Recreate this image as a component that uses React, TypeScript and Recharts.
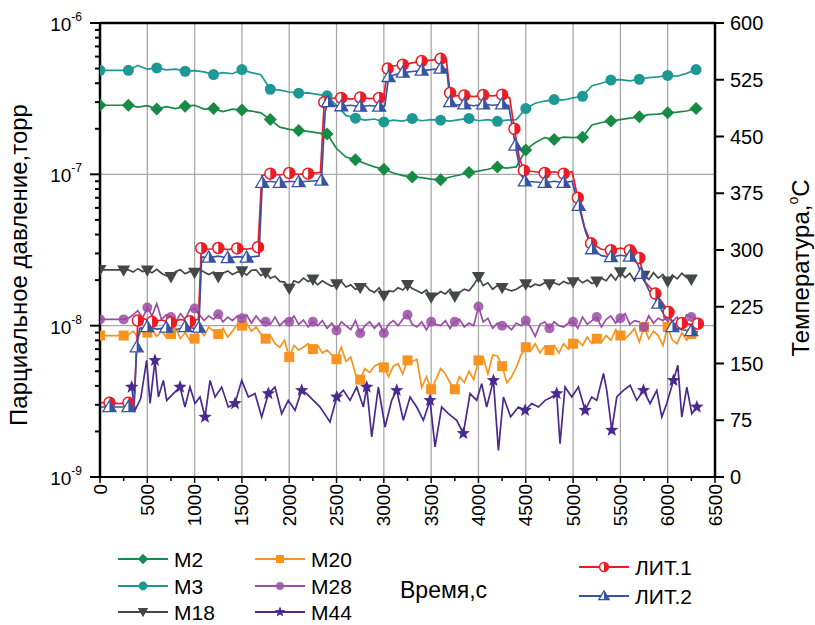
import React from "react";
import { LineChart, Line, XAxis, YAxis, ReferenceLine } from "recharts";

// sampling grids (s)
const T100 = Array.from({ length: 64 }, (_, i) => i * 100);
const T50 = Array.from({ length: 127 }, (_, i) => i * 50);

// partial pressures, in units of 1e-9 torr
const M2 = [
  286, 286, 286, 286, 278, 284, 270, 280, 272, 282,
  286, 270, 272, 260, 270, 266, 262, 255, 230, 205,
  198, 195, 192, 188, 185, 148, 130, 125, 118, 112,
  108, 102, 98, 96, 95, 93, 92, 96, 99, 103,
  105, 108, 112, 110, 112, 145, 162, 175, 170, 176,
  175, 176, 212, 220, 225, 230, 235, 240, 248, 250,
  255, 258, 262, 272,
];
const M3 = [
  487, 487, 487, 487, 525, 495, 505, 490, 495, 480,
  485, 475, 456, 470, 462, 492, 470, 455, 365, 360,
  350, 344, 345, 338, 330, 285, 245, 235, 228, 232,
  222, 228, 225, 234, 226, 230, 228, 225, 230, 234,
  226, 230, 224, 228, 230, 272, 295, 305, 312, 310,
  320, 328, 385, 400, 420, 422, 415, 425, 435, 440,
  450, 445, 465, 492,
];
const M18 = [
  23.4, 23.4, 23.4, 23.4, 23.4, 23.2, 23.4, 22.6, 23.8, 22.8,
  23.2, 22.4, 23.6, 22.2, 21.4, 21.0, 22.8, 23.4, 22.0, 22.8,
  22.4, 23.6, 22.6, 21.8, 22.6, 21.0, 22.2, 23.0, 21.8, 22.6,
  22.9, 21.6, 23.2, 23.4, 21.4, 22.4, 20.6, 21.2, 19.6, 19.4,
  17.6, 19.8, 19.2, 20.6, 19.6, 20.2, 18.6, 19.8, 18.9, 18.2,
  18.8, 19.6, 18.0, 18.6, 17.4, 17.8, 18.6, 17.2, 16.6, 17.8,
  15.8, 17.0, 16.8, 17.8, 17.2, 18.6, 17.6, 17.0, 16.4, 17.2,
  15.4, 15.9, 16.8, 16.2, 17.4, 15.6, 16.6, 17.4, 17.0, 18.6,
  21.0, 18.4, 19.2, 17.4, 18.4, 17.8, 17.4, 17.0, 17.4, 18.2,
  18.8, 18.0, 18.8, 18.4, 19.2, 18.8, 19.2, 18.6, 19.6, 19.0,
  19.4, 20.4, 19.2, 20.0, 19.0, 19.6, 20.6, 19.8, 21.8, 20.0,
  22.6, 20.8, 22.2, 19.8, 22.4, 21.4, 20.2, 22.4, 20.6, 21.8,
  19.6, 21.6, 20.4, 22.2, 20.8, 20.2, 21.6,
];
const M20 = [
  8.6, 8.6, 8.6, 8.6, 8.6, 8.6, 8.7, 9.2, 8.4, 9.6,
  9.0, 9.4, 8.5, 9.2, 8.4, 8.8, 9.6, 8.2, 9.0, 8.0,
  8.2, 9.4, 8.6, 9.8, 9.2, 8.8, 9.6, 8.4, 9.2, 10.2,
  10.0, 10.4, 9.2, 9.8, 8.8, 8.2, 8.6, 7.6, 7.2, 8.0,
  6.2, 7.4, 6.9, 7.2, 7.6, 7.0, 7.4, 6.6, 6.9, 6.4,
  6.0, 7.2, 5.8, 6.2, 4.8, 4.4, 5.2, 4.9, 5.4, 5.6,
  5.3, 4.6, 5.4, 5.6, 4.8, 5.9, 5.8, 6.0, 3.9, 4.6,
  3.8, 4.4, 5.2, 4.8, 4.2, 3.8, 4.6, 4.2, 5.0, 4.4,
  5.9, 6.2, 4.8, 6.4, 6.3, 5.4, 4.2, 4.6, 5.3, 6.4,
  7.2, 6.8, 7.6, 6.6, 7.3, 6.9, 7.4, 6.6, 7.6, 7.0,
  7.6, 8.0, 7.4, 8.4, 7.6, 8.2, 7.8, 8.6, 8.0, 9.4,
  8.6, 8.2, 8.8, 9.6, 7.8, 9.8, 8.2, 9.2, 8.6, 7.4,
  9.8, 8.0, 7.6, 9.0, 8.0, 8.8, 8.4,
];
const M28 = [
  11.0, 11.0, 11.0, 11.0, 11.0, 11.0, 11.2, 11.8, 12.6, 11.2,
  13.2, 11.6, 14.0, 11.0, 11.8, 11.4, 10.6, 12.0, 11.0, 12.8,
  13.0, 11.8, 10.8, 11.6, 11.0, 11.9, 10.6, 11.4, 10.8, 11.6,
  11.2, 11.8, 10.4, 11.6, 10.6, 10.6, 10.2, 11.4, 10.0, 10.8,
  10.6, 11.6, 10.2, 10.9, 9.8, 10.6, 10.0, 10.8, 9.6, 10.4,
  9.3, 10.6, 10.0, 9.4, 10.8, 8.9, 10.0, 10.6, 9.6, 10.4,
  8.9, 10.2, 10.8, 10.0, 11.0, 11.8, 10.2, 9.8, 10.6, 9.4,
  10.6, 10.2, 10.0, 10.8, 9.6, 10.6, 11.0, 9.8, 10.4, 10.0,
  13.4, 10.6, 11.2, 9.6, 10.4, 10.0, 10.0, 9.4, 10.4, 10.0,
  10.8, 9.8, 8.5, 10.2, 10.6, 9.6, 10.6, 10.0, 9.8, 10.4,
  10.6, 9.6, 11.4, 10.2, 10.8, 11.4, 9.8, 11.0, 11.6, 10.4,
  11.2, 12.0, 10.2, 10.8, 10.6, 9.8, 11.6, 10.4, 11.2, 10.8,
  11.6, 10.6, 11.4, 10.2, 11.8, 11.4, 11.2,
];
const M44_T = [
  335, 370, 430, 493, 529, 581, 617, 670, 705, 775,
  846, 898, 951, 1004, 1057, 1110, 1163, 1216, 1286, 1356,
  1427, 1498, 1568, 1638, 1709, 1780, 1850, 1920, 1990, 2061,
  2132, 2185, 2255, 2326, 2431, 2502, 2572, 2643, 2713, 2783,
  2819, 2872, 2942, 3013, 3083, 3136, 3206, 3277, 3347, 3418,
  3488, 3541, 3611, 3682, 3770, 3840, 3911, 3981, 4034, 4087,
  4158, 4211, 4264, 4340, 4422, 4493, 4563, 4634, 4704, 4775,
  4827, 4862, 4915, 4986, 5056, 5127, 5197, 5250, 5321, 5356,
  5409, 5462, 5532, 5603, 5673, 5744, 5814, 5885, 5938, 5990,
  6061, 6107, 6149, 6202, 6255, 6308,
];
const M44 = [
  3.93, 2.76, 3.3, 5.9, 3.06, 5.9, 3.38, 4.35, 3.21, 3.56,
  3.93, 2.9, 3.93, 3.06, 3.38, 2.49, 4.35, 3.38, 3.93, 2.9,
  3.06, 4.35, 3.38, 3.56, 2.49, 3.56, 3.93, 2.62, 3.21, 2.76,
  3.74, 3.56, 3.21, 2.9, 2.31, 3.38, 3.74, 3.21, 3.93, 2.9,
  3.93, 1.84, 3.93, 2.14, 3.21, 3.74, 2.37, 3.38, 2.9, 2.37,
  3.21, 1.58, 2.9, 2.62, 2.37, 1.94, 3.56, 3.21, 4.14, 2.9,
  4.35, 1.5, 3.38, 2.5, 2.9, 2.76, 3.06, 2.9, 3.21, 3.38,
  3.56, 1.66, 3.93, 3.38, 3.93, 2.76, 3.38, 3.21, 4.83, 3.74,
  2.04, 3.38, 3.74, 4.04, 3.21, 3.74, 3.06, 3.74, 2.49, 3.06,
  4.35, 5.47, 2.49, 3.93, 2.62, 2.9,
];
const LIT1_T = [
  0, 100, 200, 300, 360, 400, 450, 550, 650, 750, 850, 950, 1040,
  1070, 1150, 1250, 1350, 1450, 1550, 1670, 1710, 1800, 1900, 2000, 2100, 2200, 2330,
  2370, 2450, 2550, 2650, 2750, 2850, 2950, 3000, 3040, 3100, 3200, 3300, 3400, 3500, 3600, 3660,
  3700, 3750, 3850, 3950, 4050, 4150, 4250, 4330, 4380, 4430, 4480,
  4600, 4700, 4800, 4900, 4990, 5050, 5120, 5190, 5300, 5400, 5500, 5600, 5660,
  5700, 5760, 5870, 5950, 6010, 6050, 6150, 6250, 6320,
];
const LIT1 = [
  3.1, 3.1, 3.05, 3.1, 3.1, 10.8, 11.2, 10.6, 10.9, 10.5, 11.0, 10.7, 11.0,
  32.5, 32.0, 32.6, 31.8, 32.4, 32.0, 33.0, 98, 101, 99, 102, 100, 101, 103,
  300, 318, 320, 314, 322, 316, 320, 325, 500, 520, 530, 545, 560, 568, 580, 575,
  345, 330, 332, 326, 334, 330, 336, 320, 200, 130, 106,
  104, 102, 104, 101, 104, 70, 45, 35, 32, 31.5, 32.5, 31.5, 32,
  28, 19.5, 16.3, 14, 12.3, 10.2, 10.4, 10.2, 10.3,
];
const LIT2_T = [
  0, 100, 200, 300, 360, 388, 420, 500, 600, 700, 800, 900, 1000, 1045,
  1075, 1150, 1250, 1350, 1450, 1550, 1680, 1715, 1800, 1900, 2000, 2100, 2200, 2340,
  2380, 2410, 2450, 2550, 2650, 2750, 2850, 2950, 3010, 3050, 3100, 3200, 3300, 3400, 3500, 3600, 3665,
  3700, 3750, 3850, 3950, 4050, 4150, 4250, 4320, 4390, 4450, 4490,
  4600, 4700, 4800, 4900, 4990, 5060, 5130, 5200, 5300, 5400, 5500, 5600, 5650,
  5720, 5800, 5900, 5990, 6050, 6150, 6250, 6320,
];
const LIT2 = [
  2.9, 2.9, 2.9, 2.9, 2.9, 7.2, 9.6, 9.8, 9.5, 9.7, 9.4, 9.8, 9.6, 9.7,
  28.5, 28.2, 28.8, 28.0, 28.6, 28.2, 28.8, 88, 90, 88, 90, 89, 90, 91,
  260, 300, 285, 282, 286, 280, 285, 280, 283, 440, 452, 470, 478, 485, 492, 500, 495,
  300, 286, 290, 284, 290, 286, 290, 285, 155, 100, 90,
  89, 88, 90, 88, 90, 62, 42, 32, 29, 28.4, 29.2, 28.6, 29,
  22, 17.2, 14, 10.9, 9.8, 9.4, 9.2, 9.1,
];

const X_TICKS = [
  0, 250, 500, 750, 1000, 1250, 1500, 1750, 2000, 2250, 2500, 2750, 3000, 3250,
  3500, 3750, 4000, 4250, 4500, 4750, 5000, 5250, 5500, 5750, 6000, 6250, 6500,
];
const P_TICKS = [
  1e-9, 2e-9, 3e-9, 4e-9, 5e-9, 6e-9, 7e-9, 8e-9, 9e-9,
  1e-8, 2e-8, 3e-8, 4e-8, 5e-8, 6e-8, 7e-8, 8e-8, 9e-8,
  1e-7, 2e-7, 3e-7, 4e-7, 5e-7, 6e-7, 7e-7, 8e-7, 9e-7, 1e-6,
];
const T_TICKS = [0, 75, 150, 225, 300, 375, 450, 525, 600];

const FONT = "'Liberation Sans', Arial, sans-serif";
const GRID = "#a8a8a8";

const rows = (ts: number[], vs: number[]) =>
  ts.map((t, i) => ({ t, v: vs[i] * 1e-9 }));

type Kind = "diamond" | "circle" | "triDown" | "square" | "dot" | "star" | "halfCircle" | "halfTri";

const SERIES: { name: string; data: { t: number; v: number }[]; color: string; kind: Kind; every: number; offset: number }[] = [
  { name: "M2", data: rows(T100, M2), color: "#178a45", kind: "diamond", every: 3, offset: 0 },
  { name: "M3", data: rows(T100, M3), color: "#1e9894", kind: "circle", every: 3, offset: 0 },
  { name: "M18", data: rows(T50, M18), color: "#434846", kind: "triDown", every: 5, offset: 0 },
  { name: "M20", data: rows(T50, M20), color: "#f7931e", kind: "square", every: 5, offset: 0 },
  { name: "M28", data: rows(T50, M28), color: "#9a4ea5", kind: "dot", every: 5, offset: 0 },
  { name: "M44", data: rows(M44_T, M44), color: "#4a2a8e", kind: "star", every: 5, offset: 0 },
  { name: "ЛИТ.1", data: rows(LIT1_T, LIT1), color: "#ed1c24", kind: "halfCircle", every: 2, offset: 1 },
  { name: "ЛИТ.2", data: rows(LIT2_T, LIT2), color: "#3953a4", kind: "halfTri", every: 2, offset: 1 },
];

function Marker({ kind, cx, cy, color, s = 1 }: { kind: Kind; cx: number; cy: number; color: string; s?: number }) {
  switch (kind) {
    case "diamond": {
      const r = 6.5 * s;
      return <polygon points={`${cx},${cy - r} ${cx + r},${cy} ${cx},${cy + r} ${cx - r},${cy}`} fill={color} />;
    }
    case "circle":
      return <circle cx={cx} cy={cy} r={5.5 * s} fill={color} />;
    case "dot":
      return <circle cx={cx} cy={cy} r={5 * s} fill={color} fillOpacity={0.85} />;
    case "triDown": {
      const r = 6.5 * s;
      return <polygon points={`${cx - r},${cy - r * 0.75} ${cx + r},${cy - r * 0.75} ${cx},${cy + r}`} fill={color} />;
    }
    case "square": {
      const r = 5 * s;
      return <rect x={cx - r} y={cy - r} width={2 * r} height={2 * r} fill={color} />;
    }
    case "star": {
      const R = 7 * s, r = 3 * s;
      const pts = [];
      for (let k = 0; k < 10; k++) {
        const a = -Math.PI / 2 + (k * Math.PI) / 5;
        const rr = k % 2 === 0 ? R : r;
        pts.push(`${cx + rr * Math.cos(a)},${cy + rr * Math.sin(a)}`);
      }
      return <polygon points={pts.join(" ")} fill={color} />;
    }
    case "halfCircle": {
      const r = 5.5 * s;
      return (
        <g>
          <circle cx={cx} cy={cy} r={r} fill="#fff" stroke={color} strokeWidth={1.5} />
          <path d={`M${cx},${cy - r} A${r},${r} 0 0 1 ${cx},${cy + r} Z`} fill={color} />
        </g>
      );
    }
    case "halfTri": {
      const r = 6.5 * s;
      const b = cy + r * 0.7;
      return (
        <g>
          <polygon points={`${cx},${cy - r} ${cx + r},${b} ${cx - r},${b}`} fill="#fff" stroke={color} strokeWidth={1.3} />
          <polygon points={`${cx},${cy - r} ${cx + r},${b} ${cx},${b}`} fill={color} />
        </g>
      );
    }
  }
  return null;
}

const makeDot = (kind: Kind, color: string, every: number, offset: number) => (p: any) => {
  const { cx, cy, index } = p;
  const key = `d-${index}`;
  if (cx == null || cy == null || index < offset || (index - offset) % every !== 0) return <g key={key} />;
  return (
    <g key={key}>
      <Marker kind={kind} cx={cx} cy={cy} color={color} />
    </g>
  );
};

function LeftTick(p: any) {
  const { x, y, payload } = p;
  const lg = Math.log10(payload.value);
  const major = Math.abs(lg - Math.round(lg)) < 1e-6;
  return (
    <g>
      <line x1={x} x2={x - (major ? 10 : 5)} y1={y} y2={y} stroke="#000" strokeWidth={2} />
      {major && (
        <text x={x - 18} y={y + 8} textAnchor="end" fontSize={19} fontFamily={FONT} fill="#000">
          10<tspan dy={-10} fontSize={12}>{Math.round(lg)}</tspan>
        </text>
      )}
    </g>
  );
}

function RightTick(p: any) {
  const { x, y, payload } = p;
  return (
    <g>
      <line x1={x} x2={x + 9} y1={y} y2={y} stroke="#000" strokeWidth={2} />
      <text x={x + 15} y={y + 7} textAnchor="start" fontSize={20} fontFamily={FONT} fill="#000">
        {payload.value}
      </text>
    </g>
  );
}

function BottomTick(p: any) {
  const { x, y, payload } = p;
  const major = payload.value % 500 === 0;
  return (
    <g>
      <line x1={x} x2={x} y1={y} y2={y + (major ? 6 : 4)} stroke="#000" strokeWidth={1.5} />
      {major && (
        <text
          x={x}
          y={y + 7}
          transform={`rotate(-90, ${x}, ${y + 7})`}
          textAnchor="end"
          dominantBaseline="central"
          fontSize={19}
          fontFamily={FONT}
          fill="#000"
        >
          {payload.value}
        </text>
      )}
    </g>
  );
}

const LEGEND_ROWS = [559, 586, 612];

export default function App() {
  const legendItem = (s: (typeof SERIES)[number], x0: number, y: number) => (
    <g key={s.name}>
      <line x1={x0} x2={x0 + 50} y1={y} y2={y} stroke={s.color} strokeWidth={2} />
      <Marker kind={s.kind} cx={x0 + 25} cy={y} color={s.color} s={0.8} />
      <text x={x0 + 56} y={y + 8} fontSize={21} fontFamily={FONT} fill="#000">
        {s.name}
      </text>
    </g>
  );

  return (
    <div style={{ position: "absolute", left: 0, top: 0, width: 815, height: 625, background: "#fff" }}>
      <LineChart width={815} height={625} margin={{ top: 23, right: 0, bottom: 88, left: 0 }}>
        <XAxis
          dataKey="t"
          type="number"
          domain={[0, 6500]}
          ticks={X_TICKS}
          interval={0}
          tickSize={0}
          tickMargin={0}
          tickLine={false}
          tick={<BottomTick />}
          height={60}
          axisLine={{ stroke: "#000", strokeWidth: 2 }}
          allowDataOverflow
        />
        <YAxis
          yAxisId="p"
          orientation="left"
          scale="log"
          type="number"
          domain={[1e-9, 1e-6]}
          ticks={P_TICKS}
          interval={0}
          width={100}
          tickSize={0}
          tickMargin={0}
          tickLine={false}
          tick={<LeftTick />}
          axisLine={{ stroke: "#000", strokeWidth: 2.5 }}
          allowDataOverflow
        />
        <YAxis
          yAxisId="T"
          orientation="right"
          type="number"
          domain={[0, 600]}
          ticks={T_TICKS}
          interval={0}
          width={100}
          tickSize={0}
          tickMargin={0}
          tickLine={false}
          tick={<RightTick />}
          axisLine={{ stroke: "#000", strokeWidth: 2.5 }}
          allowDataOverflow
        />
        {X_TICKS.filter((t) => t % 500 === 0 && t > 0 && t < 6500).map((t) => (
          <ReferenceLine key={`gx${t}`} x={t} yAxisId="p" stroke={GRID} strokeWidth={1.3} />
        ))}
        {[1e-8, 1e-7].map((v) => (
          <ReferenceLine key={`gy${v}`} y={v} yAxisId="p" stroke={GRID} strokeWidth={1.3} />
        ))}
        <ReferenceLine y={1e-6} yAxisId="p" stroke="#000" strokeWidth={2.5} />
        {SERIES.map((s) => (
          <Line
            key={s.name}
            data={s.data}
            dataKey="v"
            yAxisId="p"
            type="linear"
            stroke={s.color}
            strokeWidth={1.7}
            dot={makeDot(s.kind, s.color, s.every, s.offset)}
            activeDot={false}
            isAnimationActive={false}
          />
        ))}
      </LineChart>
      <svg width={815} height={625} style={{ position: "absolute", left: 0, top: 0, pointerEvents: "none" }}>
        <text
          x={27}
          y={265}
          transform="rotate(-90, 27, 265)"
          textAnchor="middle"
          fontSize={24}
          fontFamily={FONT}
          fill="#000"
        >
          Парциальное давление,торр
        </text>
        <text
          x={809}
          y={268}
          transform="rotate(-90, 809, 268)"
          textAnchor="middle"
          fontSize={24}
          fontFamily={FONT}
          fill="#000"
        >
          Температура,<tspan fontSize={14} dy={-11}>o</tspan>
          <tspan dy={11}>C</tspan>
        </text>
        <text x={400} y={598} fontSize={23} fontFamily={FONT} fill="#000">
          Время,с
        </text>
        {SERIES.slice(0, 3).map((s, i) => legendItem(s, 118, LEGEND_ROWS[i]))}
        {SERIES.slice(3, 6).map((s, i) => legendItem(s, 255, LEGEND_ROWS[i]))}
        {SERIES.slice(6).map((s, i) => legendItem(s, 579, [567, 596][i]))}
      </svg>
    </div>
  );
}
